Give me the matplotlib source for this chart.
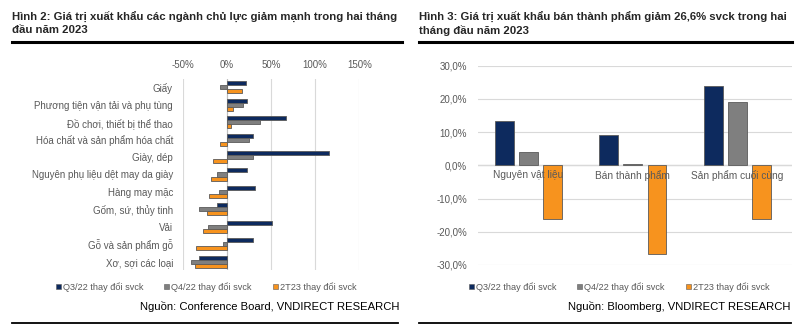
import numpy as np
import matplotlib
matplotlib.use("Agg")
import matplotlib.pyplot as plt
from matplotlib.lines import Line2D
from matplotlib.patches import Patch

plt.rcParams['font.family'] = ['Liberation Sans', 'DejaVu Sans']

# ---- data: left chart (Hinh 2) ----
nganh = ["Giấy", "Phương tiện vận tải và phụ tùng", "Đồ chơi, thiết bị thể thao",
         "Hóa chất và sản phẩm hóa chất", "Giày, dép", "Nguyên phụ liệu dệt may da giày",
         "Hàng may mặc", "Gốm, sứ, thủy tinh", "Vải", "Gỗ và sản phẩm gỗ", "Xơ, sợi các loại"]
q3_nganh = [21.5, 23, 66.8, 29.4, 115.5, 23, 31.7, -11.7, 51, 29.4, -31.7]
q4_nganh = [-8.3, 18, 37.4, 25.3, 29.4, -11.7, -9.4, -31, -21.9, -4.5, -40.8]
t23_nganh = [16.6, 7.5, 5, -7.2, -16.2, -18.5, -20.4, -23, -27.5, -35.5, -36.2]

# ---- data: right chart (Hinh 3) ----
nhom = ["Nguyên vật liệu", "Bán thành phẩm", "Sản phẩm cuối cùng"]
q3_nhom = [13.5, 9.2, 23.8]
q4_nhom = [4.1, 0.3, 19.0]
t23_nhom = [-16.1, -26.6, -16.3]

series = ["Q3/22 thay đổi svck", "Q4/22 thay đổi svck", "2T23 thay đổi svck"]
colors = ["#0D2A5E", "#7F7F7F", "#F7931E"]
edge = "#5A5A5A"
txt = "#595959"

W, H = 807, 327
fig = plt.figure(figsize=(W / 100, H / 100), dpi=100)


def box(x0, y0, x1, y1):
    return [x0 / W, 1 - y1 / H, (x1 - x0) / W, (y1 - y0) / H]


def rule(x0, x1, y, lw):
    fig.add_artist(Line2D([x0 / W, x1 / W], [1 - y / H, 1 - y / H], color="black", lw=lw))


# titles and rules
fig.text(12 / W, 1 - 12 / H, "Hình 2: Giá trị xuất khẩu các ngành chủ lực giảm mạnh trong hai tháng\nđầu năm 2023",
         fontsize=8.2, fontweight="bold", color="#262626", va="top", ha="left", linespacing=1.2)
fig.text(419 / W, 1 - 12 / H, "Hình 3: Giá trị xuất khẩu bán thành phẩm giảm 26,6% svck trong hai\ntháng đầu năm 2023",
         fontsize=8.2, fontweight="bold", color="#262626", va="top", ha="left", linespacing=1.2)
rule(12, 402, 42, 2.2)
rule(419, 792, 42, 2.2)
rule(12, 398, 323, 1.3)
rule(419, 791, 323, 1.3)
fig.text(400 / W, 1 - 307 / H, "Nguồn: Conference Board, VNDIRECT RESEARCH", fontsize=8.1,
         color="black", ha="right", va="center")
fig.text(790 / W, 1 - 307 / H, "Nguồn: Bloomberg, VNDIRECT RESEARCH", fontsize=8.1,
         color="black", ha="right", va="center")

# ---- left chart ----
ax = fig.add_axes(box(182.7, 78.6, 359.3, 270.4))
y = np.arange(len(nganh))
h = 0.23
for i, vals in enumerate([q3_nganh, q4_nganh, t23_nganh]):
    ax.barh(y + (i - 1) * h, vals, height=h, color=colors[i], edgecolor=edge, linewidth=0.6, zorder=3)
ax.set_ylim(len(nganh) - 0.5, -0.5)
ax.set_xlim(-50, 150)
ax.set_xticks([-50, 0, 50, 100, 150])
ax.set_xticklabels(["-50%", "0%", "50%", "100%", "150%"])
ax.xaxis.tick_top()
ax.tick_params(axis="x", length=0, labelsize=7, colors=txt, pad=6)
ax.set_yticks(y)
ax.set_yticklabels(nganh)
ax.tick_params(axis="y", length=0, labelsize=7, colors=txt, pad=7)
ax.grid(axis="x", color="#D9D9D9", lw=0.8, zorder=0)
ax.axvline(0, color="#BFBFBF", lw=0.8, zorder=2)
for s in ax.spines.values():
    s.set_visible(False)

handles = [Patch(facecolor=c, edgecolor=edge, linewidth=0.4) for c in colors]
fig.legend(handles, series, loc="center", bbox_to_anchor=(206 / W, 1 - 287 / H), ncol=3,
           frameon=False, fontsize=6.6, labelcolor=txt, handlelength=0.55, handleheight=0.55,
           handletextpad=0.2, columnspacing=2.3)

# ---- right chart ----
ax2 = fig.add_axes(box(478, 65.7, 792, 265))
x = np.arange(len(nhom))
w = 0.18
step = 0.23
for i, vals in enumerate([q3_nhom, q4_nhom, t23_nhom]):
    ax2.bar(x + (i - 1) * step, vals, width=w, color=colors[i], edgecolor=edge, linewidth=0.6, zorder=3)
ax2.set_xlim(-0.48, 2.52)
ax2.set_ylim(-30, 30)
ax2.set_yticks(np.arange(-30, 31, 10))
ax2.set_yticklabels([f"{v:.1f}%".replace(".", ",") for v in np.arange(-30, 31, 10)])
ax2.tick_params(axis="y", length=0, labelsize=7, colors=txt, pad=8)
ax2.set_xticks([])
ax2.grid(axis="y", color="#D9D9D9", lw=0.8, zorder=0)
ax2.axhline(0, color="#D9D9D9", lw=1.0, zorder=2)
for s in ax2.spines.values():
    s.set_visible(False)
for xi, name in zip(x, nhom):
    ax2.text(xi, -1.3, name, ha="center", va="top", fontsize=7.3, color=txt, zorder=4)

fig.legend(handles, series, loc="center", bbox_to_anchor=(619 / W, 1 - 287 / H), ncol=3,
           frameon=False, fontsize=6.6, labelcolor=txt, handlelength=0.55, handleheight=0.55,
           handletextpad=0.2, columnspacing=2.3)

fig.savefig("out.png", dpi=100, facecolor="white")
